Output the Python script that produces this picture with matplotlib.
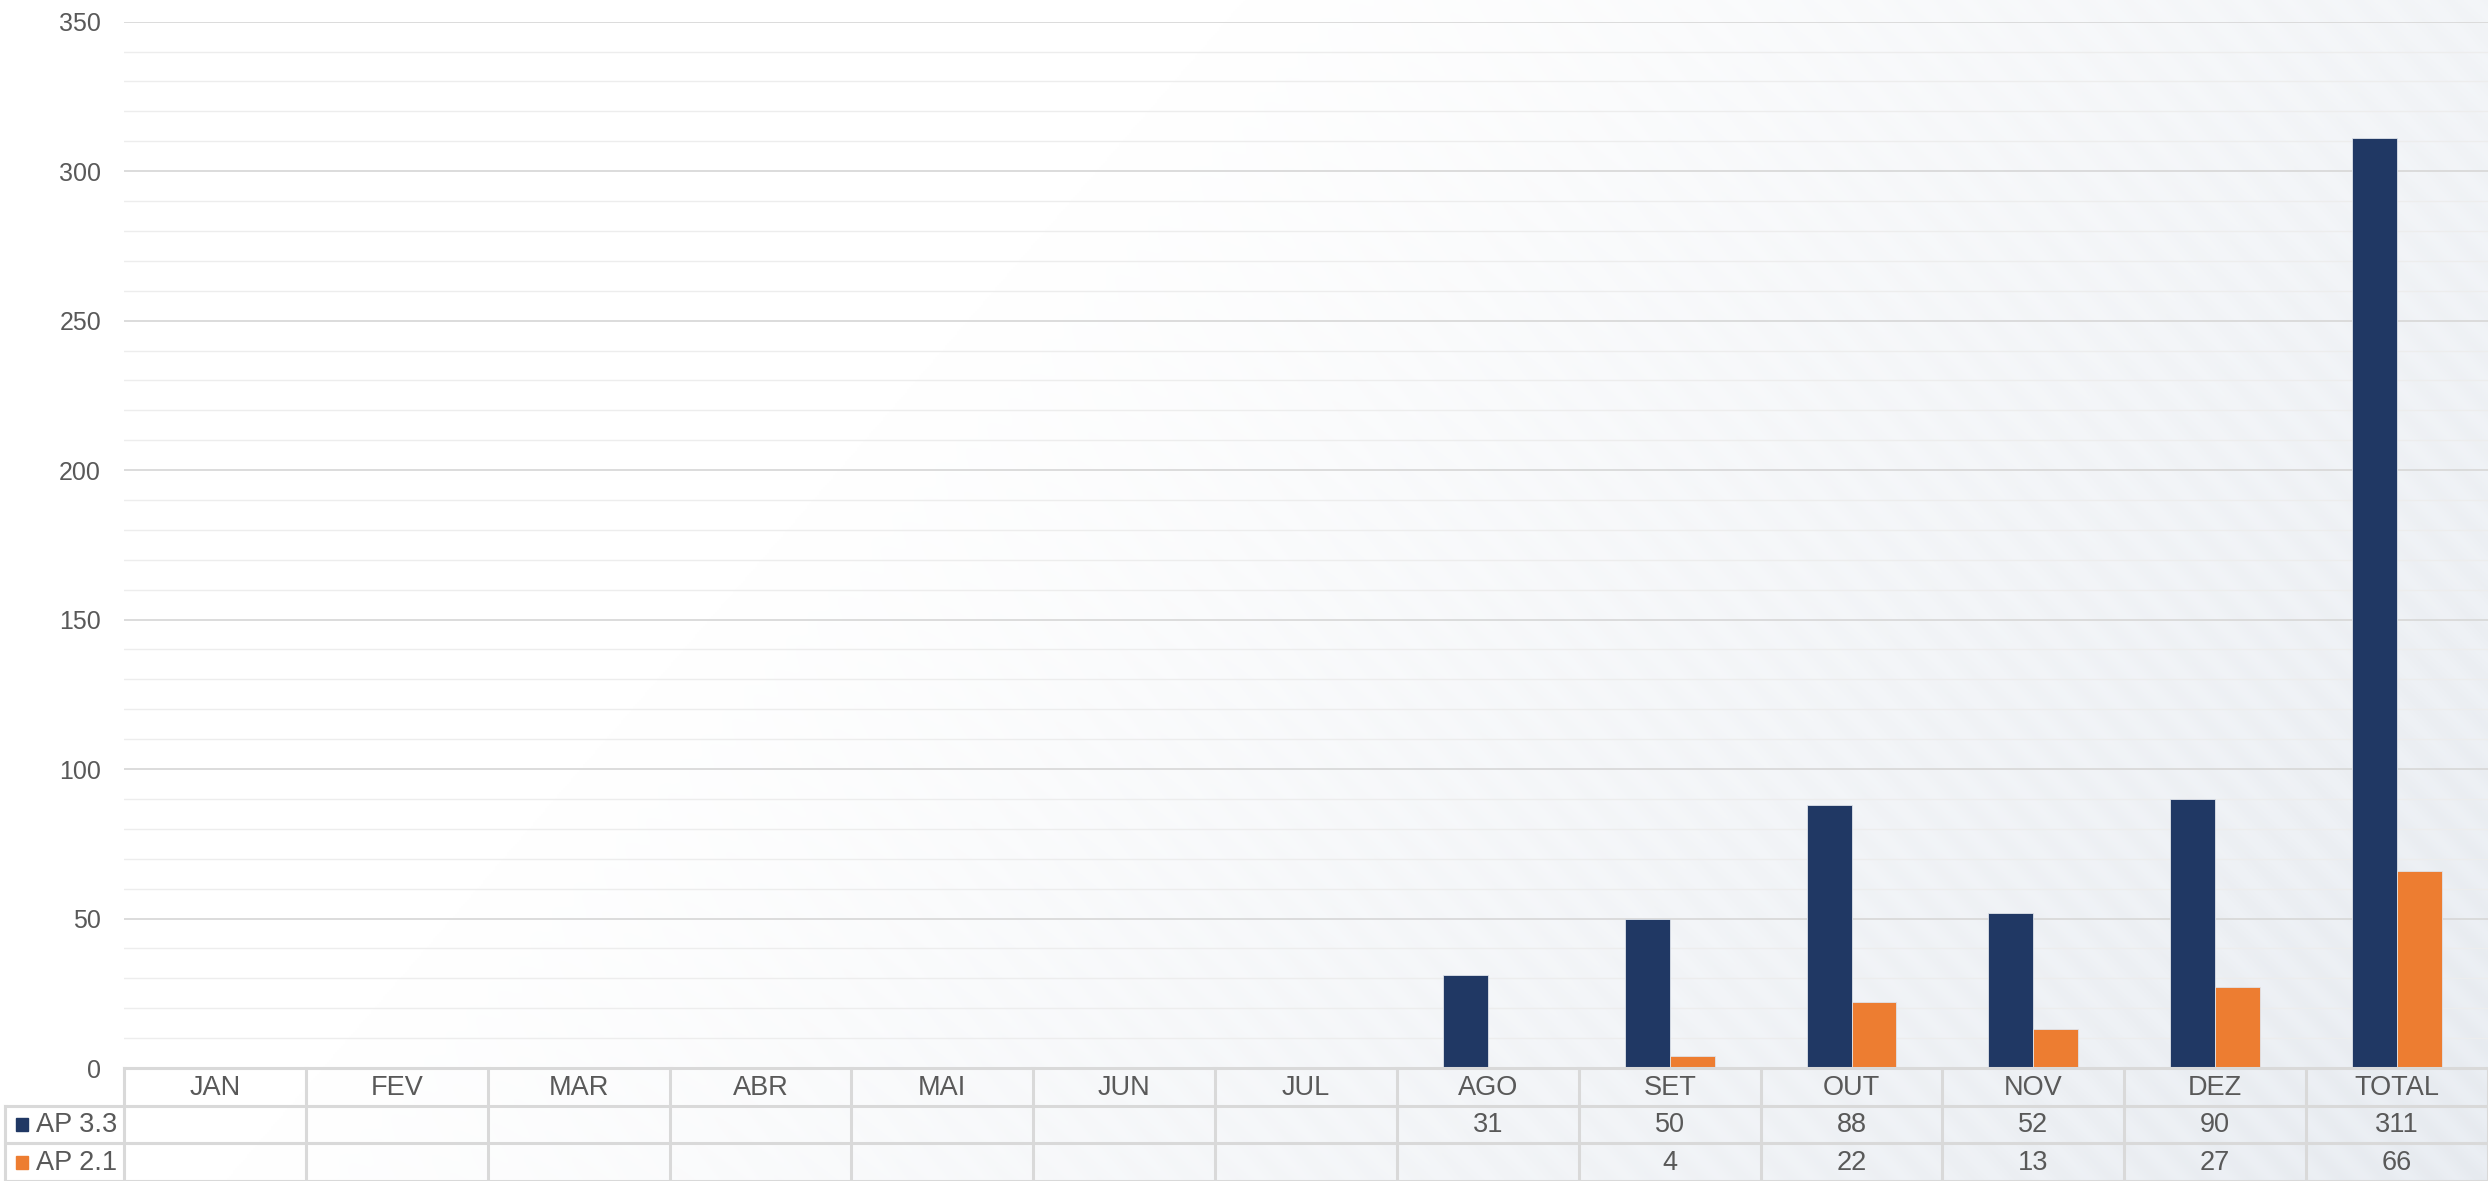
import numpy as np
import matplotlib
matplotlib.use("Agg")
import matplotlib.pyplot as plt

plt.rcParams['font.family'] = ['Liberation Sans', 'DejaVu Sans']

# data
months = ["JAN", "FEV", "MAR", "ABR", "MAI", "JUN", "JUL", "AGO", "SET", "OUT", "NOV", "DEZ", "TOTAL"]
series_names = ["AP 3.3", "AP 2.1"]
ap33 = [None, None, None, None, None, None, None, 31, 50, 88, 52, 90, 311]
ap21 = [None, None, None, None, None, None, None, None, 4, 22, 13, 27, 66]
colors = ["#203864", "#ED7D31"]
text_color = "#595959"

W, H = 2488, 1181
fig = plt.figure(figsize=(W / 100, H / 100), dpi=100)

# background: white to light grey-blue with faint diagonal stripes
bg = fig.add_axes([0, 0, 1, 1], zorder=-10)
yy, xx = np.mgrid[0:H:2, 0:W:2]
t = np.clip(xx / W * 1.1 + yy / H * 0.45 - 0.55, 0, 1)
base = np.array([1.0, 1.0, 1.0])
end = np.array([0.918, 0.933, 0.953])
stripes = 0.5 + 0.5 * np.sin((xx - yy) * 2 * np.pi / 46)
img = base[None, None, :] * (1 - t[..., None]) + end[None, None, :] * t[..., None]
img = img - (stripes * t * 0.015)[..., None]
bg.imshow(np.clip(img, 0, 1), extent=[0, 1, 0, 1], aspect="auto", origin="upper")
bg.axis("off")

# main plot area
left = 124 / W
right = 1.0
y_bot = 1068
y_top = 21.7
ax = fig.add_axes([left, (H - y_bot) / H, right - left, (y_bot - y_top) / H])
ax.patch.set_alpha(0)

x = np.arange(len(months))
bw = 0.247
for i, (vals, c) in enumerate(zip([ap33, ap21], colors)):
    v = np.array([np.nan if a is None else a for a in vals], dtype=float)
    off = (i - 0.5) * bw
    ax.bar(x + off, np.nan_to_num(v), bw, color=c, edgecolor="#dfe3ea",
           linewidth=0.6, zorder=3)

ax.set_xlim(-0.5, len(months) - 0.5)
ax.set_ylim(0, 350)
ax.set_yticks(np.arange(0, 351, 50))
ax.set_yticks(np.arange(0, 351, 10), minor=True)
ax.grid(axis="y", which="major", color="#d9d9d9", linewidth=1.3, zorder=0)
ax.grid(axis="y", which="minor", color="#ededed", linewidth=1.0, zorder=0)
ax.set_xticks([])
ax.tick_params(axis="y", which="both", length=0, pad=16.5, labelsize=18, labelcolor=text_color)
for s in ax.spines.values():
    s.set_visible(False)

# data table below the plot
tab = fig.add_axes([left, 0, right - left, (H - y_bot) / H])
tab.patch.set_alpha(0)
tab.set_xlim(-0.5, len(months) - 0.5)
tab.set_ylim(3, 0)
tab.axis("off")
line_kw = dict(color="#d9d9d9", linewidth=2.2, clip_on=False)
label_left = -0.5 - (124 - 5) / 182

for r in range(4):
    x0 = -0.5 if r == 0 else label_left
    tab.plot([x0, len(months) - 0.5], [r, r], **line_kw)
for k in range(len(months) + 1):
    tab.plot([k - 0.5, k - 0.5], [0, 3], **line_kw)
tab.plot([label_left, label_left], [1, 3], **line_kw)

for k, m in enumerate(months):
    tab.text(k, 0.52, m, ha="center", va="center", fontsize=19.5, color=text_color)
for r, vals in enumerate([ap33, ap21]):
    for k, v in enumerate(vals):
        if v is not None:
            tab.text(k, r + 1.52, str(v), ha="center", va="center",
                     fontsize=19.5, color=text_color)

# row labels with legend keys
for r, (name, c) in enumerate(zip(series_names, colors)):
    tab.add_patch(plt.Rectangle((label_left + 0.058, r + 1.33), 0.068, 0.35,
                                color=c, clip_on=False))
    tab.text(label_left + 0.17, r + 1.52, name, ha="left", va="center",
             fontsize=19.5, color=text_color, clip_on=False)

fig.savefig("out.png", dpi=100)
